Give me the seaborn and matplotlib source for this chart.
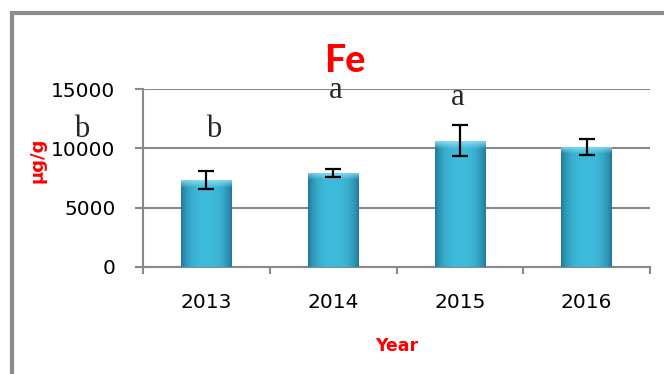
import numpy as np
import pandas as pd
import seaborn as sns
import matplotlib.pyplot as plt
from matplotlib.patches import Rectangle
from matplotlib.colors import to_rgb

# data
years = ["2013", "2014", "2015", "2016"]
fe_mean = [7330, 7950, 10650, 10150]
fe_err = [760, 350, 1300, 670]
letters = ["b", "b", "a", "a"]
letter_x = [-0.98, 0.06, 1.02, 1.98]
letter_y = [11000, 11000, 14270, 13680]
y_ticks = [0, 5000, 10000, 15000]

df = pd.DataFrame({"Year": years, "Fe": fe_mean})

sns.set_style("white")
plt.rcParams["font.family"] = ["DejaVu Sans"]

fig = plt.figure(figsize=(6.64, 3.74), dpi=100)
ax = fig.add_axes([143 / 664, 1 - 266.7 / 374, (650 - 143) / 664, (266.7 - 89.3) / 374])

sns.barplot(data=df, x="Year", y="Fe", color="#35AFCF", width=0.40, ax=ax,
            errorbar=None, zorder=3)


def bar_image(height_frac=0.06, n=120):
    # horizontal shading (dark edges, light centre) with a pale bevel on top
    edge, mid, top = np.array(to_rgb("#21789A")), np.array(to_rgb("#3EBADA")), np.array(to_rgb("#9BE3F3"))
    t = np.linspace(-1, 1, n)
    prof = np.clip(1 - np.abs(t) ** 3, 0, 1)
    row = edge + (mid - edge) * prof[:, None]
    img = np.repeat(row[None, :, :], n, axis=0)
    k = max(1, int(n * height_frac))
    for i in range(k):
        a = 1 - i / k
        img[i] = img[i] * (1 - a * 0.8) + top * a * 0.8
    return img


for p in ax.patches:
    x0, y0 = p.get_x(), p.get_y()
    w, h = p.get_width(), p.get_height()
    im = ax.imshow(bar_image(650 / h), aspect="auto", extent=[x0, x0 + w, y0, y0 + h],
                   zorder=3.1, interpolation="bilinear")
    im.set_clip_path(p)
    p.set_edgecolor("none")

ax.errorbar(range(len(years)), fe_mean, yerr=fe_err, fmt="none", ecolor="black",
            elinewidth=1.6, capsize=6, capthick=1.6, zorder=4)

ax.set_xlim(-0.5, 3.5)
ax.set_ylim(0, 15000)
ax.set_yticks(y_ticks)
ax.set_yticklabels([str(v) for v in y_ticks], fontsize=14.5, color="black")
ax.set_xticks(range(len(years)))
ax.set_xticklabels(years, fontsize=14.5, color="black")
ax.tick_params(axis="x", which="major", length=0, pad=19)
ax.tick_params(axis="y", left=True, length=5.8, width=1.5, color="#898989", pad=14)

# category boundary ticks on the x axis
ax.set_xticks([-0.5, 0.5, 1.5, 2.5, 3.5], minor=True)
ax.tick_params(axis="x", which="minor", bottom=True, length=5, width=1.5, color="#898989")

ax.yaxis.grid(True, color="#898989", lw=1.5, zorder=0)
ax.set_axisbelow(True)
for s in ["top", "right"]:
    ax.spines[s].set_visible(False)
for s in ["left", "bottom"]:
    ax.spines[s].set_color("#898989")
    ax.spines[s].set_linewidth(1.5)

for lx, ly, t in zip(letter_x, letter_y, letters):
    ax.text(lx, ly, t, ha="center", va="baseline", fontsize=22,
            family=["Liberation Serif"], clip_on=False)

ax.set_xlabel("Year", color="red", fontsize=12.5, fontweight="bold")
ax.xaxis.set_label_coords(0.5, -0.395)
ax.set_ylabel("µg/g", color="red", fontsize=13, fontweight="bold")
ax.yaxis.set_label_coords(-0.19, 0.6)
fig.text(345 / 664, 1 - 61 / 374, "Fe", color="red", fontsize=27, fontweight="black",
         family=["Lato", "DejaVu Sans"], ha="center", va="center")

# outer chart border (runs off the right/bottom edges)
fig.patches.append(Rectangle((11.5 / 664, -0.2), 1.2, 1 - 13 / 374 + 0.2,
                             transform=fig.transFigure, fill=False,
                             edgecolor="#8C8C8C", lw=3))

fig.savefig("out.png", dpi=100)
